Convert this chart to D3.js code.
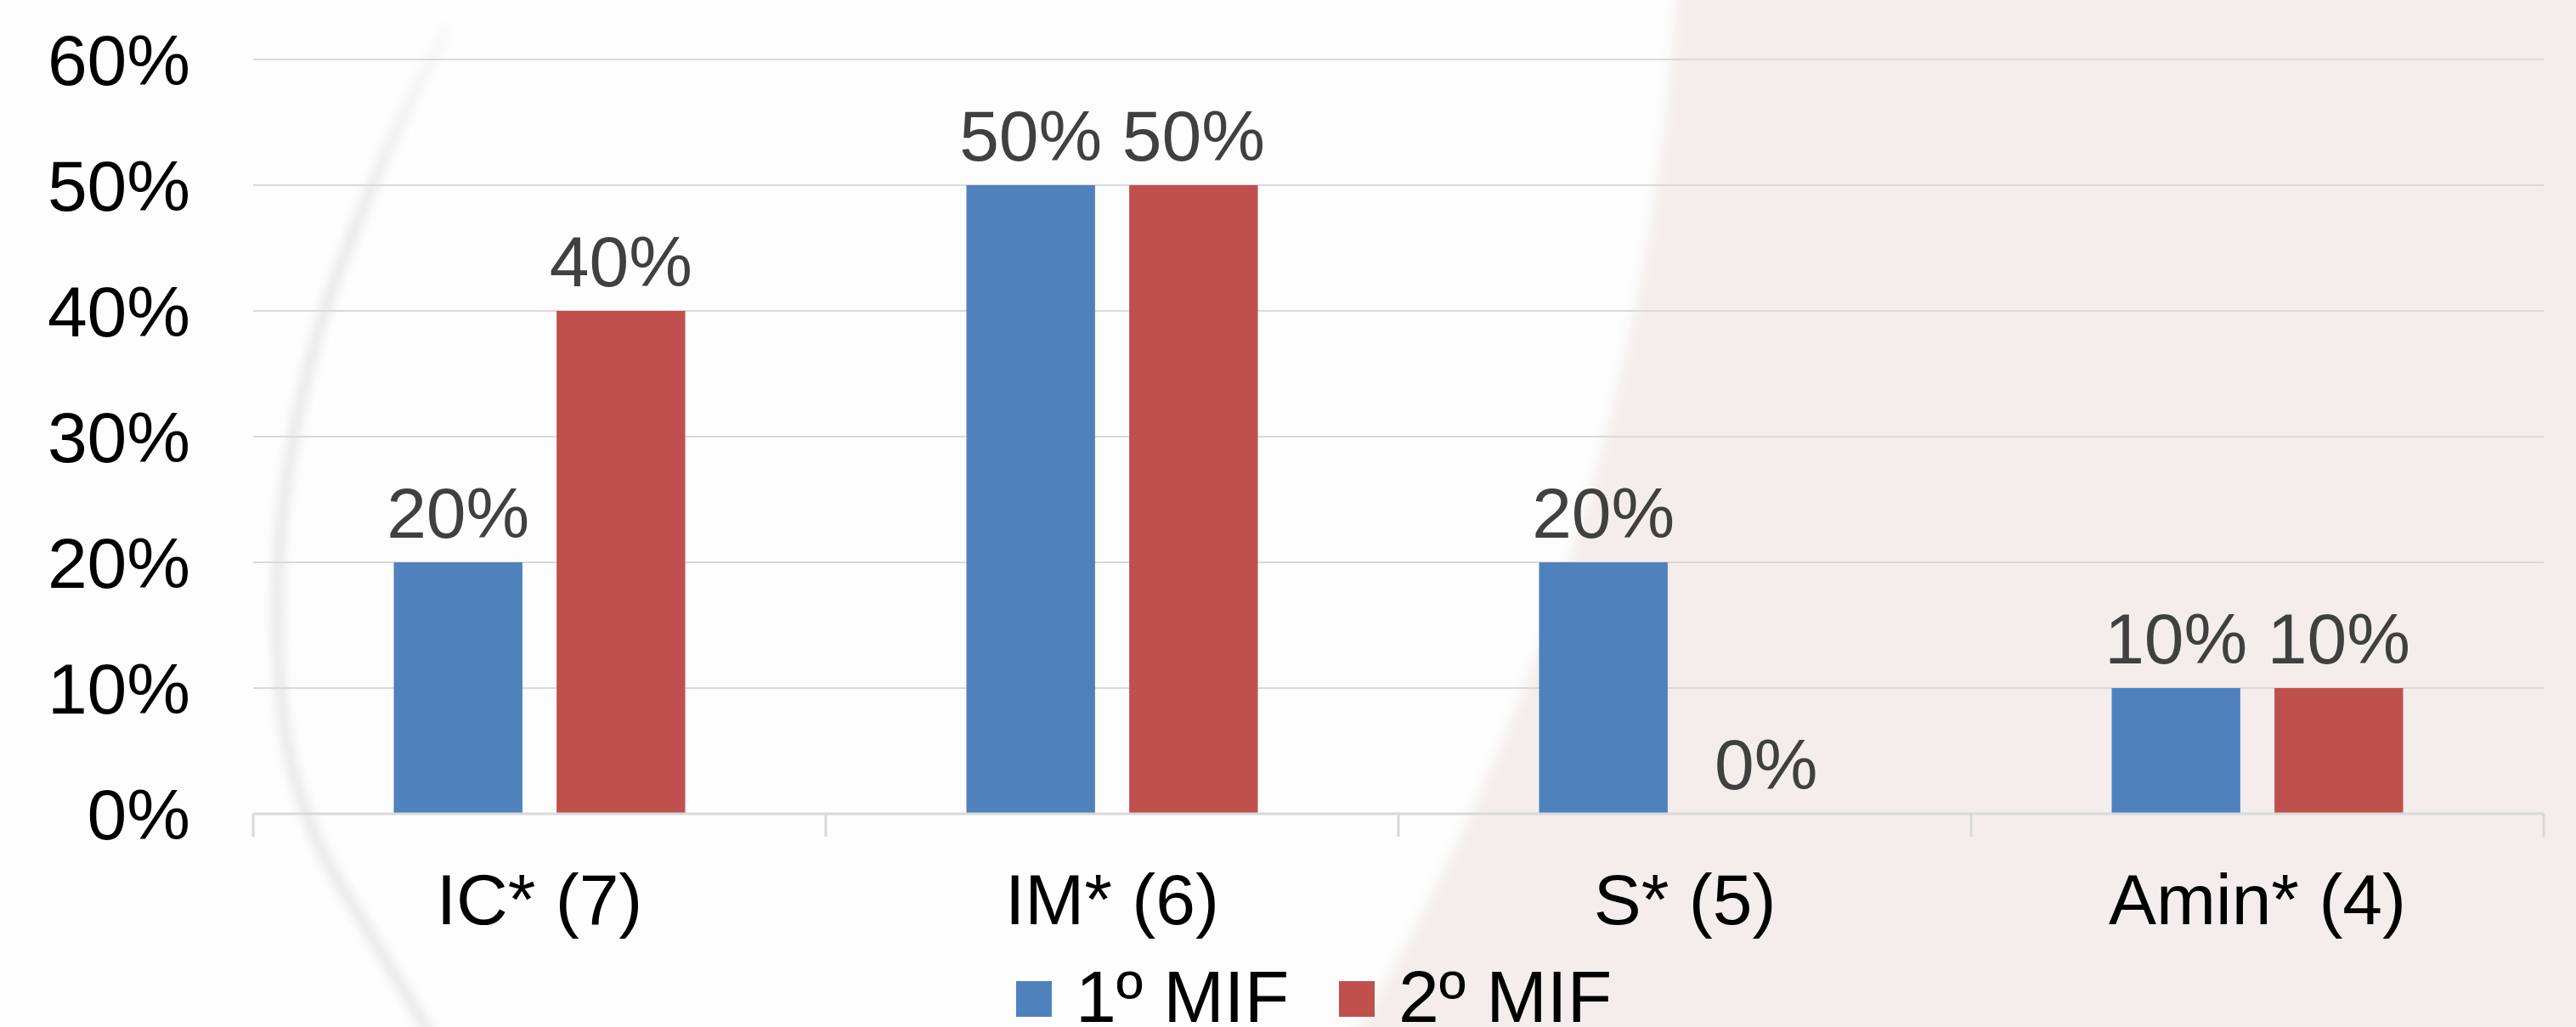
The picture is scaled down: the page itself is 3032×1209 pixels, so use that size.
<!DOCTYPE html>
<html>
<head>
<meta charset="utf-8">
<script src="https://cdn.jsdelivr.net/npm/d3@7"></script>
<style>
  html, body { margin: 0; padding: 0; background: #fdfdfd; }
  svg { display: block; font-family: Arial, "Liberation Sans", sans-serif; }
</style>
</head>
<body>
<svg id="chart" width="3032" height="1209"></svg>
<script>
// Chart data
const categories = ["IC* (7)", "IM* (6)", "S* (5)", "Amin* (4)"];
const seriesNames = ["1º MIF", "2º MIF"];
const mif1 = [0.20, 0.50, 0.20, 0.10];
const mif2 = [0.40, 0.50, 0.00, 0.10];
const yTicks = [0, 0.1, 0.2, 0.3, 0.4, 0.5, 0.6];

const colors = ["#4f81bd", "#c0504d"];
const W = 3032, H = 1209;
const plot = { left: 298, right: 2994, top: 70, bottom: 958 };

const svg = d3.select("#chart");
const defs = svg.append("defs");
defs.append("filter").attr("id", "soft").attr("x", "-10%").attr("y", "-10%").attr("width", "120%").attr("height", "120%")
  .append("feGaussianBlur").attr("stdDeviation", 7);
defs.append("filter").attr("id", "softer").attr("x", "-20%").attr("y", "-10%").attr("width", "140%").attr("height", "120%")
  .append("feGaussianBlur").attr("stdDeviation", 6);
const fade = defs.append("linearGradient").attr("id", "arcFade")
  .attr("gradientUnits", "userSpaceOnUse").attr("x1", 0).attr("y1", 20).attr("x2", 0).attr("y2", 260);
fade.append("stop").attr("offset", 0).attr("stop-color", "#e9e9e9").attr("stop-opacity", 0.2);
fade.append("stop").attr("offset", 1).attr("stop-color", "#e9e9e9").attr("stop-opacity", 1);

// Slide backdrop: pale rose field with a large white disc over it
svg.append("rect").attr("width", W).attr("height", H).attr("fill", "#f5edec");
svg.append("circle").attr("cx", -758).attr("cy", -180).attr("r", 2737)
  .attr("fill", "#fdfdfd").attr("filter", "url(#soft)");

// Faint decorative arc on the left
const arcPts = [[528, 30], [446, 200], [372, 400], [333, 600], [327, 760], [343, 900], [378, 1000], [430, 1090], [505, 1215]];
svg.append("path")
  .attr("d", d3.line().curve(d3.curveCatmullRom)(arcPts))
  .attr("fill", "none").attr("stroke", "url(#arcFade)").attr("stroke-width", 14)
  .attr("filter", "url(#softer)");

// Scales
const x0 = d3.scaleBand().domain(categories).range([plot.left, plot.right]).padding(0);
const groupW = 343;
const x1 = d3.scaleBand().domain(seriesNames)
  .range([(x0.bandwidth() - groupW) / 2, (x0.bandwidth() + groupW) / 2])
  .paddingInner(0.21).paddingOuter(0);
const y = d3.scaleLinear().domain([0, 0.6]).range([plot.bottom, plot.top]);

// Horizontal gridlines
svg.append("g").selectAll("line").data(yTicks.slice(1)).join("line")
  .attr("x1", plot.left).attr("x2", plot.right)
  .attr("y1", d => y(d)).attr("y2", d => y(d))
  .attr("stroke", "#d9d9d9").attr("stroke-width", 2);

// Y axis labels
const yAxis = svg.append("g").attr("transform", `translate(${plot.left},0)`)
  .call(d3.axisLeft(y).tickValues(yTicks).tickFormat(d3.format(".0%")).tickSize(0).tickPadding(74));
yAxis.select(".domain").remove();
yAxis.selectAll("text").attr("font-size", 84).attr("fill", "#000")
  .attr("font-family", "Arial, 'Liberation Sans', sans-serif").attr("dy", "0.35em");

// Bars
const rows = categories.map((c, i) => ({ cat: c, vals: [mif1[i], mif2[i]] }));
const groups = svg.append("g").selectAll("g").data(rows).join("g")
  .attr("transform", d => `translate(${x0(d.cat)},0)`);
groups.selectAll("rect").data(d => d.vals.map((v, j) => ({ s: seriesNames[j], v, j }))).join("rect")
  .attr("x", d => x1(d.s)).attr("width", x1.bandwidth())
  .attr("y", d => y(d.v)).attr("height", d => y(0) - y(d.v))
  .attr("fill", d => colors[d.j]);

// Value labels
groups.selectAll("text").data(d => d.vals.map((v, j) => ({ s: seriesNames[j], v, j }))).join("text")
  .attr("x", d => x1(d.s) + x1.bandwidth() / 2)
  .attr("y", d => y(d.v) - 29)
  .attr("text-anchor", "middle").attr("font-size", 84).attr("fill", "#404040")
  .text(d => d3.format(".0%")(d.v));

// X axis baseline with category separators
svg.append("line").attr("x1", plot.left).attr("x2", plot.right)
  .attr("y1", y(0)).attr("y2", y(0)).attr("stroke", "#d9d9d9").attr("stroke-width", 3);
const edges = categories.map(c => x0(c)).concat([x0(categories[categories.length - 1]) + x0.bandwidth()]);
svg.append("g").selectAll("line").data(edges).join("line")
  .attr("x1", d => d).attr("x2", d => d).attr("y1", y(0)).attr("y2", y(0) + 27)
  .attr("stroke", "#d9d9d9").attr("stroke-width", 3);

const xAxis = svg.append("g").attr("transform", `translate(0,${plot.bottom})`)
  .call(d3.axisBottom(x0).tickSize(0).tickPadding(0));
xAxis.select(".domain").remove();
xAxis.selectAll("text").attr("font-size", 84).attr("fill", "#000")
  .attr("font-family", "Arial, 'Liberation Sans', sans-serif")
  .attr("y", 130).attr("dy", 0);

// Legend
const legendX = [1196, 1576];
const legend = svg.append("g").selectAll("g").data(seriesNames).join("g")
  .attr("transform", (d, i) => `translate(${legendX[i]},1155)`);
legend.append("rect").attr("width", 42).attr("height", 42).attr("fill", (d, i) => colors[i]);
legend.append("text").attr("x", 70).attr("y", 48).attr("font-size", 86).attr("fill", "#000").text(d => d);
</script>
</body>
</html>
